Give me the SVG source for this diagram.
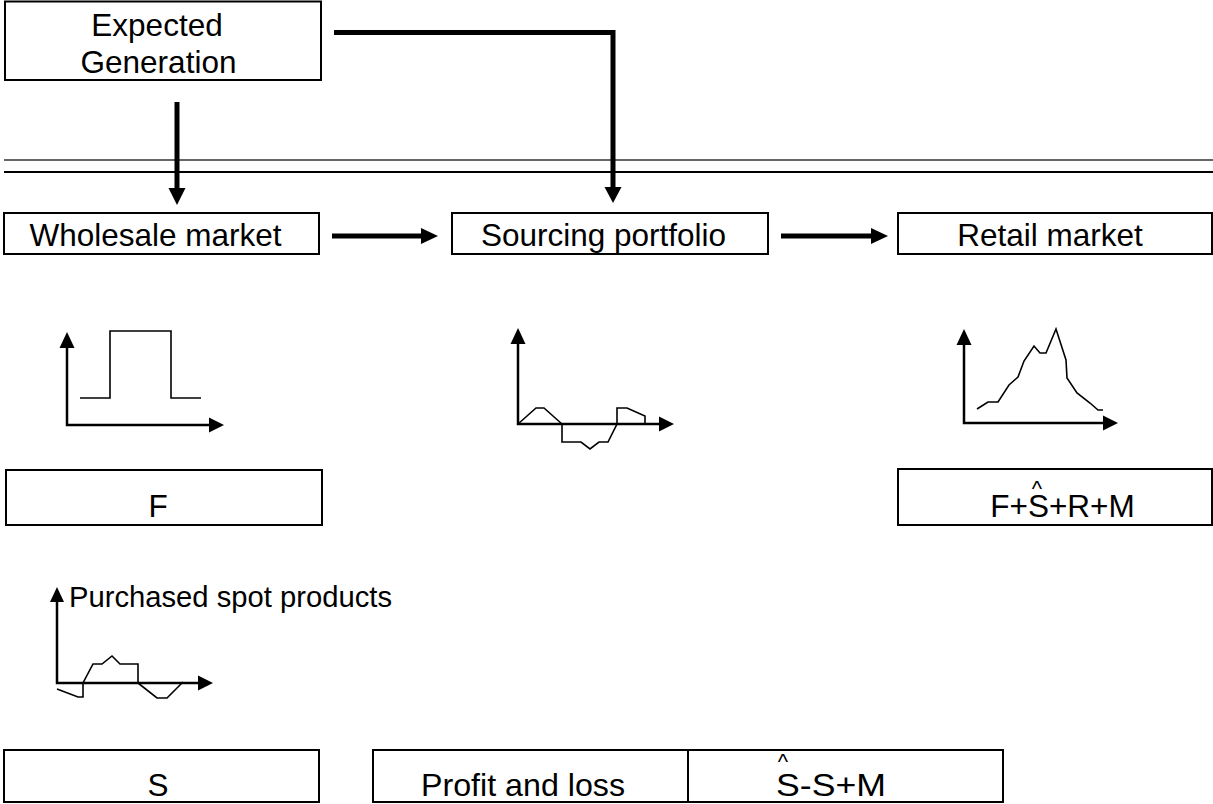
<svg xmlns="http://www.w3.org/2000/svg" width="1213" height="804" viewBox="0 0 1213 804">
<style>
.box{fill:#fff;stroke:#000;stroke-width:2}
.t{font-family:"Liberation Sans",Arial,sans-serif;font-size:31.5px;fill:#000}
.m{text-anchor:middle}
.hat{font-size:22px}
.conn{fill:none;stroke:#000;stroke-width:5}
.head{fill:#000;stroke:none}
.axis{fill:none;stroke:#000;stroke-width:2.5}
.curve{fill:none;stroke:#000;stroke-width:1.6;stroke-linejoin:miter}
</style>
<rect width="1213" height="804" fill="#fff"/>
<g id="separator">
<line x1="4" y1="160" x2="1213" y2="160" stroke="#333" stroke-width="1.6"/>
<line x1="4" y1="172" x2="1213" y2="172" stroke="#000" stroke-width="2"/>
</g>
<g id="connectors">
<line class="conn" x1="177" y1="102" x2="177" y2="190"/>
<polygon class="head" points="168.5,188 185.5,188 177,205"/>
<polyline class="conn" points="334,32.5 613,32.5 613,189"/>
<polygon class="head" points="604.5,187 621.5,187 613,203"/>
<line class="conn" x1="332" y1="236" x2="423" y2="236"/>
<polygon class="head" points="421,228 438,236 421,244"/>
<line class="conn" x1="781" y1="236" x2="873" y2="236"/>
<polygon class="head" points="871,228 888,236 871,244"/>
</g>
<g id="expected-generation">
<rect class="box" x="5" y="1.5" width="316" height="78.5"/>
<text class="t m" x="157" y="36">Expected</text>
<text class="t m" x="158.5" y="73">Generation</text>
</g>
<g id="wholesale-market">
<rect class="box" x="4" y="213" width="315" height="41"/>
<text class="t m" x="155.5" y="246">Wholesale market</text>
</g>
<g id="sourcing-portfolio">
<rect class="box" x="452" y="213" width="316" height="41"/>
<text class="t m" x="603.5" y="246">Sourcing portfolio</text>
</g>
<g id="retail-market">
<rect class="box" x="898" y="213" width="314" height="41"/>
<text class="t m" x="1050" y="246">Retail market</text>
</g>
<g id="chart-wholesale">
<polyline class="axis" points="67,348 67,425 210,425"/>
<polygon class="head" points="59.5,348 74.5,348 67,332"/>
<polygon class="head" points="209,417.5 224,425 209,432.5"/>
<polyline class="curve" points="80,398 110,398 110,331 171,331 171,398 201,398"/>
</g>
<g id="chart-sourcing">
<polyline class="axis" points="518,344 518,424 660,424"/>
<polygon class="head" points="510.5,344 525.5,344 518,328"/>
<polygon class="head" points="659,416.5 674,424 659,431.5"/>
<polyline class="curve" points="518,424 536,408 544,408 562,424 562,442 581,442 590,449 599,442 608,442 617,424 617,408 627,408 645,416 645,424"/>
</g>
<g id="chart-retail">
<polyline class="axis" points="964,345 964,423 1104,423"/>
<polygon class="head" points="956.5,345 971.5,345 964,329"/>
<polygon class="head" points="1103,415.5 1118,423 1103,430.5"/>
<polyline class="curve" points="977,409 988,402 998,402 1009,385 1018,377 1024,361 1034,346 1040,353 1046,353 1056,329 1066,360 1067,378 1077,393 1090,403 1098,410 1103,410"/>
</g>
<g id="f-box">
<rect class="box" x="6" y="470" width="316" height="55"/>
<text class="t m" x="158" y="517">F</text>
</g>
<g id="retail-formula">
<rect class="box" x="898" y="469" width="314" height="56"/>
<text class="t m"><tspan class="hat" x="1037" y="496">^</tspan><tspan x="1062.5" y="517">F+S+R+M</tspan></text>
</g>
<g id="chart-spot">
<polyline class="axis" points="57,601 57,683 199,683"/>
<polygon class="head" points="50,602 64,602 57,587"/>
<polygon class="head" points="198,675.5 213,683 198,690.5"/>
<polyline class="curve" points="57,689 78,697 83,697 83,683 93,664 102,664 112,656 120,664 138,664 138,683 157,698 167,698 183,682"/>
<text class="t" x="69" y="607" style="font-size:29px" textLength="323" lengthAdjust="spacingAndGlyphs">Purchased spot products</text>
</g>
<g id="s-box">
<rect class="box" x="4" y="750" width="315" height="52"/>
<text class="t m" x="158" y="796">S</text>
</g>
<g id="profit-loss">
<rect class="box" x="373" y="750" width="315" height="52"/>
<text class="t m" x="523" y="796" textLength="204" lengthAdjust="spacingAndGlyphs">Profit and loss</text>
</g>
<g id="profit-formula">
<rect class="box" x="688" y="750" width="315" height="52"/>
<text class="t m"><tspan class="hat" x="783" y="769">^</tspan><tspan x="831" y="796" textLength="110" lengthAdjust="spacingAndGlyphs">S-S+M</tspan></text>
</g>
</svg>
